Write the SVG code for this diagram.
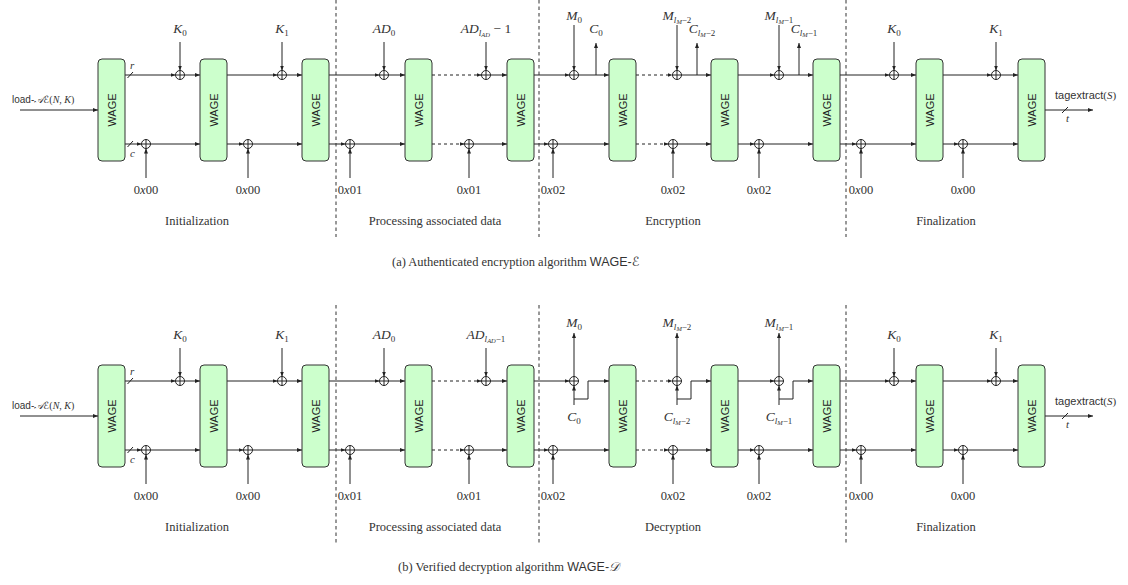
<svg xmlns="http://www.w3.org/2000/svg" xmlns:xlink="http://www.w3.org/1999/xlink" width="1128" height="585" viewBox="0 0 1128 585">
<style>
.ln{stroke:#222;stroke-width:1;fill:none}
.ar{marker-end:url(#ah)}
.ds{stroke-dasharray:3 3}
.dv{stroke:#333;stroke-width:1;stroke-dasharray:3.5 3;fill:none}
.box{fill:#ccffcc;stroke:#333;stroke-width:1}
.t{font-family:"Liberation Serif","DejaVu Serif",serif;font-size:12.5px;fill:#333}
.m{font-size:13.5px}
.mid{text-anchor:middle}
.i{font-style:italic}
.sb{font-size:9px}
.ssb{font-size:6.5px}
.sf{font-family:"Liberation Sans","DejaVu Sans",sans-serif}
.sc{font-family:"DejaVu Serif","DejaVu Sans","Noto Sans",serif;font-style:italic}
.w{font-family:"Liberation Sans","DejaVu Sans",sans-serif;font-size:11px;fill:#222;text-anchor:middle}
</style>
<defs>
<marker id="ah" markerWidth="6" markerHeight="4" refX="5" refY="2" orient="auto" markerUnits="userSpaceOnUse"><path d="M0,0 L5,2 L0,4 z" fill="#222"/></marker>
<g id="xor"><circle r="4.5" fill="#fff" stroke="#222" stroke-width="1"/><path d="M-4.5,0H4.5M0,-4.5V4.5" stroke="#222" stroke-width="1"/></g>
<g id="wbox"><rect class="box" x="0" y="0" width="27" height="102" rx="4"/><text class="w" transform="translate(13.5,51) rotate(-90)" y="4">WAGE</text></g>
</defs>
<rect width="1128" height="585" fill="#fff"/>

<!-- ================= (a) ================= -->
<g id="diagram-a">
 <g id="a-connectors" class="ln">
  <path class="ar" d="M20,110H98"/>
  <path class="ar" d="M1045,110H1093"/>
  <path d="M1062,113L1068,107"/>
  <path d="M127.5,78L133,72"/>
  <path d="M127.5,147L133,141"/>
  <path class="ar" d="M125,75H175.5"/><path class="ar" d="M184.5,75H200"/>
  <path class="ar" d="M227,75H277.5"/><path class="ar" d="M286.5,75H302"/>
  <path class="ar" d="M329,75H379.5"/><path class="ar" d="M388.5,75H405"/>
  <path class="ar ds" d="M432,75H481.5"/><path class="ar" d="M490.5,75H507"/>
  <path class="ar" d="M534,75H569.5"/><path class="ar" d="M578.5,75H609"/><path class="ar" d="M596,75V43"/>
  <path class="ar ds" d="M636,75H672.5"/><path class="ar" d="M681.5,75H711"/><path class="ar" d="M697,75V43"/>
  <path class="ar" d="M738,75H774.5"/><path class="ar" d="M783.5,75H813"/><path class="ar" d="M799,75V43"/>
  <path class="ar" d="M840,75H889.5"/><path class="ar" d="M898.5,75H916"/>
  <path class="ar" d="M943,75H991.5"/><path class="ar" d="M1000.5,75H1018"/>
  <path class="ar" d="M180,42V70.5"/><path class="ar" d="M282,42V70.5"/>
  <path class="ar" d="M384,42V70.5"/><path class="ar" d="M486,42V70.5"/>
  <path class="ar" d="M574,25V70.5"/><path class="ar" d="M677,25V70.5"/><path class="ar" d="M779,25V70.5"/>
  <path class="ar" d="M894,42V70.5"/><path class="ar" d="M996,42V70.5"/>
  <path class="ar" d="M125,144H141.5"/><path class="ar" d="M150.5,144H200"/>
  <path class="ar" d="M227,144H243.5"/><path class="ar" d="M252.5,144H302"/>
  <path class="ar" d="M329,144H345.5"/><path class="ar" d="M354.5,144H405"/>
  <path class="ar ds" d="M432,144H464.5"/><path class="ar" d="M473.5,144H507"/>
  <path class="ar" d="M534,144H548.5"/><path class="ar" d="M557.5,144H609"/>
  <path class="ar ds" d="M636,144H668.5"/><path class="ar" d="M677.5,144H711"/>
  <path class="ar" d="M738,144H754.5"/><path class="ar" d="M763.5,144H813"/>
  <path class="ar" d="M840,144H856.5"/><path class="ar" d="M865.5,144H916"/>
  <path class="ar" d="M943,144H958.5"/><path class="ar" d="M967.5,144H1018"/>
  <path class="ar" d="M146,178V148.5"/><path class="ar" d="M248,178V148.5"/>
  <path class="ar" d="M350,178V148.5"/><path class="ar" d="M469,178V148.5"/>
  <path class="ar" d="M553,178V148.5"/><path class="ar" d="M673,178V148.5"/><path class="ar" d="M759,178V148.5"/>
  <path class="ar" d="M861,178V148.5"/><path class="ar" d="M963,178V148.5"/>
 </g>
 <g id="a-dividers">
  <path class="dv" d="M336,0V237M539,0V237M846,0V237"/>
 </g>
 <g id="a-wage1"><use href="#wbox" x="98" y="59"/></g>
 <g id="a-wage2"><use href="#wbox" x="200" y="59"/></g>
 <g id="a-wage3"><use href="#wbox" x="302" y="59"/></g>
 <g id="a-wage4"><use href="#wbox" x="405" y="59"/></g>
 <g id="a-wage5"><use href="#wbox" x="507" y="59"/></g>
 <g id="a-wage6"><use href="#wbox" x="609" y="59"/></g>
 <g id="a-wage7"><use href="#wbox" x="711" y="59"/></g>
 <g id="a-wage8"><use href="#wbox" x="813" y="59"/></g>
 <g id="a-wage9"><use href="#wbox" x="916" y="59"/></g>
 <g id="a-wage10"><use href="#wbox" x="1018" y="59"/></g>
 <g id="a-xors">
  <use id="a-xr1" href="#xor" x="180" y="75"/><use id="a-xr2" href="#xor" x="282" y="75"/>
  <use id="a-xr3" href="#xor" x="384" y="75"/><use id="a-xr4" href="#xor" x="486" y="75"/>
  <use id="a-xr5" href="#xor" x="574" y="75"/><use id="a-xr6" href="#xor" x="677" y="75"/>
  <use id="a-xr7" href="#xor" x="779" y="75"/><use id="a-xr8" href="#xor" x="894" y="75"/>
  <use id="a-xr9" href="#xor" x="996" y="75"/>
  <use id="a-xc1" href="#xor" x="146" y="144"/><use id="a-xc2" href="#xor" x="248" y="144"/>
  <use id="a-xc3" href="#xor" x="350" y="144"/><use id="a-xc4" href="#xor" x="469" y="144"/>
  <use id="a-xc5" href="#xor" x="553" y="144"/><use id="a-xc6" href="#xor" x="673" y="144"/>
  <use id="a-xc7" href="#xor" x="759" y="144"/><use id="a-xc8" href="#xor" x="861" y="144"/>
  <use id="a-xc9" href="#xor" x="963" y="144"/>
 </g>
 <g id="a-labels" class="t">
  <text x="12" y="103" font-size="10"><tspan class="sf">load-</tspan><tspan class="sc">𝒜ℰ</tspan>(<tspan class="i">N</tspan>, <tspan class="i">K</tspan>)</text>
  <text x="1055" y="99" font-size="11"><tspan class="sf">tagextract</tspan>(<tspan class="i">S</tspan>)</text>
  <text x="1066" y="122" class="i" font-size="11">t</text>
  <text x="130" y="69" class="i" font-size="11">r</text>
  <text x="130" y="157" class="i" font-size="11">c</text>
  <text x="180" y="33" class="mid m"><tspan class="i">K</tspan><tspan class="sb" dy="2.5">0</tspan></text>
  <text x="282" y="33" class="mid m"><tspan class="i">K</tspan><tspan class="sb" dy="2.5">1</tspan></text>
  <text x="384" y="33" class="mid m"><tspan class="i">AD</tspan><tspan class="sb" dy="2.5">0</tspan></text>
  <text x="486" y="33" class="mid m"><tspan class="i">AD</tspan><tspan class="sb i" dy="2.5">l</tspan><tspan class="ssb i" dy="1.5">AD</tspan><tspan dy="-4"> − 1</tspan></text>
  <text x="574" y="20" class="mid m"><tspan class="i">M</tspan><tspan class="sb" dy="2.5">0</tspan></text>
  <text x="596" y="33" class="mid m"><tspan class="i">C</tspan><tspan class="sb" dy="2.5">0</tspan></text>
  <text x="677" y="20" class="mid m"><tspan class="i">M</tspan><tspan class="sb i" dy="2.5">l</tspan><tspan class="ssb i" dy="1.5">M</tspan><tspan class="sb" dy="-1.5">−2</tspan></text>
  <text x="702" y="33" class="mid m"><tspan class="i">C</tspan><tspan class="sb i" dy="2.5">l</tspan><tspan class="ssb i" dy="1.5">M</tspan><tspan class="sb" dy="-1.5">−2</tspan></text>
  <text x="779" y="20" class="mid m"><tspan class="i">M</tspan><tspan class="sb i" dy="2.5">l</tspan><tspan class="ssb i" dy="1.5">M</tspan><tspan class="sb" dy="-1.5">−1</tspan></text>
  <text x="804" y="33" class="mid m"><tspan class="i">C</tspan><tspan class="sb i" dy="2.5">l</tspan><tspan class="ssb i" dy="1.5">M</tspan><tspan class="sb" dy="-1.5">−1</tspan></text>
  <text x="894" y="33" class="mid m"><tspan class="i">K</tspan><tspan class="sb" dy="2.5">0</tspan></text>
  <text x="996" y="33" class="mid m"><tspan class="i">K</tspan><tspan class="sb" dy="2.5">1</tspan></text>
  <text x="146" y="194" class="mid">0<tspan class="i">x</tspan>00</text>
  <text x="248" y="194" class="mid">0<tspan class="i">x</tspan>00</text>
  <text x="350" y="194" class="mid">0<tspan class="i">x</tspan>01</text>
  <text x="469" y="194" class="mid">0<tspan class="i">x</tspan>01</text>
  <text x="553" y="194" class="mid">0<tspan class="i">x</tspan>02</text>
  <text x="673" y="194" class="mid">0<tspan class="i">x</tspan>02</text>
  <text x="759" y="194" class="mid">0<tspan class="i">x</tspan>02</text>
  <text x="861" y="194" class="mid">0<tspan class="i">x</tspan>00</text>
  <text x="963" y="194" class="mid">0<tspan class="i">x</tspan>00</text>
  <text x="197" y="225" class="mid">Initialization</text>
  <text x="435" y="225" class="mid">Processing associated data</text>
  <text x="673" y="225" class="mid">Encryption</text>
  <text x="946" y="225" class="mid">Finalization</text>
  <text x="392" y="266">(a) Authenticated encryption algorithm <tspan class="sf">WAGE-</tspan><tspan class="sc">ℰ</tspan></text>
 </g>
</g>

<!-- ================= (b) ================= -->
<g id="diagram-b" transform="translate(0,306)">
 <g id="b-connectors" class="ln">
  <path class="ar" d="M20,110H98"/>
  <path class="ar" d="M1045,110H1093"/>
  <path d="M1062,113L1068,107"/>
  <path d="M127.5,78L133,72"/>
  <path d="M127.5,147L133,141"/>
  <path class="ar" d="M125,75H175.5"/><path class="ar" d="M184.5,75H200"/>
  <path class="ar" d="M227,75H277.5"/><path class="ar" d="M286.5,75H302"/>
  <path class="ar" d="M329,75H379.5"/><path class="ar" d="M388.5,75H405"/>
  <path class="ar ds" d="M432,75H481.5"/><path class="ar" d="M490.5,75H507"/>
  <path class="ar" d="M534,75H569.5"/>
  <path class="ar" d="M574,70.5V27"/><path class="ar" d="M574,99V79.5"/><path class="ar" d="M574,93H588V75H609"/>
  <path class="ar ds" d="M636,75H672.5"/>
  <path class="ar" d="M677,70.5V27"/><path class="ar" d="M677,99V79.5"/><path class="ar" d="M677,93H691V75H711"/>
  <path class="ar" d="M738,75H774.5"/>
  <path class="ar" d="M779,70.5V27"/><path class="ar" d="M779,99V79.5"/><path class="ar" d="M779,93H793V75H813"/>
  <path class="ar" d="M840,75H889.5"/><path class="ar" d="M898.5,75H916"/>
  <path class="ar" d="M943,75H991.5"/><path class="ar" d="M1000.5,75H1018"/>
  <path class="ar" d="M180,42V70.5"/><path class="ar" d="M282,42V70.5"/>
  <path class="ar" d="M384,42V70.5"/><path class="ar" d="M486,42V70.5"/>
  <path class="ar" d="M894,42V70.5"/><path class="ar" d="M996,42V70.5"/>
  <path class="ar" d="M125,144H141.5"/><path class="ar" d="M150.5,144H200"/>
  <path class="ar" d="M227,144H243.5"/><path class="ar" d="M252.5,144H302"/>
  <path class="ar" d="M329,144H345.5"/><path class="ar" d="M354.5,144H405"/>
  <path class="ar ds" d="M432,144H464.5"/><path class="ar" d="M473.5,144H507"/>
  <path class="ar" d="M534,144H548.5"/><path class="ar" d="M557.5,144H609"/>
  <path class="ar ds" d="M636,144H668.5"/><path class="ar" d="M677.5,144H711"/>
  <path class="ar" d="M738,144H754.5"/><path class="ar" d="M763.5,144H813"/>
  <path class="ar" d="M840,144H856.5"/><path class="ar" d="M865.5,144H916"/>
  <path class="ar" d="M943,144H958.5"/><path class="ar" d="M967.5,144H1018"/>
  <path class="ar" d="M146,178V148.5"/><path class="ar" d="M248,178V148.5"/>
  <path class="ar" d="M350,178V148.5"/><path class="ar" d="M469,178V148.5"/>
  <path class="ar" d="M553,178V148.5"/><path class="ar" d="M673,178V148.5"/><path class="ar" d="M759,178V148.5"/>
  <path class="ar" d="M861,178V148.5"/><path class="ar" d="M963,178V148.5"/>
 </g>
 <g id="b-dividers">
  <path class="dv" d="M336,-1V237M539,-1V237M846,-1V237"/>
 </g>
 <g id="b-wage1"><use href="#wbox" x="98" y="59"/></g>
 <g id="b-wage2"><use href="#wbox" x="200" y="59"/></g>
 <g id="b-wage3"><use href="#wbox" x="302" y="59"/></g>
 <g id="b-wage4"><use href="#wbox" x="405" y="59"/></g>
 <g id="b-wage5"><use href="#wbox" x="507" y="59"/></g>
 <g id="b-wage6"><use href="#wbox" x="609" y="59"/></g>
 <g id="b-wage7"><use href="#wbox" x="711" y="59"/></g>
 <g id="b-wage8"><use href="#wbox" x="813" y="59"/></g>
 <g id="b-wage9"><use href="#wbox" x="916" y="59"/></g>
 <g id="b-wage10"><use href="#wbox" x="1018" y="59"/></g>
 <g id="b-xors">
  <use id="b-xr1" href="#xor" x="180" y="75"/><use id="b-xr2" href="#xor" x="282" y="75"/>
  <use id="b-xr3" href="#xor" x="384" y="75"/><use id="b-xr4" href="#xor" x="486" y="75"/>
  <use id="b-xr5" href="#xor" x="574" y="75"/><use id="b-xr6" href="#xor" x="677" y="75"/>
  <use id="b-xr7" href="#xor" x="779" y="75"/><use id="b-xr8" href="#xor" x="894" y="75"/>
  <use id="b-xr9" href="#xor" x="996" y="75"/>
  <use id="b-xc1" href="#xor" x="146" y="144"/><use id="b-xc2" href="#xor" x="248" y="144"/>
  <use id="b-xc3" href="#xor" x="350" y="144"/><use id="b-xc4" href="#xor" x="469" y="144"/>
  <use id="b-xc5" href="#xor" x="553" y="144"/><use id="b-xc6" href="#xor" x="673" y="144"/>
  <use id="b-xc7" href="#xor" x="759" y="144"/><use id="b-xc8" href="#xor" x="861" y="144"/>
  <use id="b-xc9" href="#xor" x="963" y="144"/>
 </g>
 <g id="b-labels" class="t">
  <text x="12" y="103" font-size="10"><tspan class="sf">load-</tspan><tspan class="sc">𝒜ℰ</tspan>(<tspan class="i">N</tspan>, <tspan class="i">K</tspan>)</text>
  <text x="1055" y="99" font-size="11"><tspan class="sf">tagextract</tspan>(<tspan class="i">S</tspan>)</text>
  <text x="1066" y="122" class="i" font-size="11">t</text>
  <text x="130" y="69" class="i" font-size="11">r</text>
  <text x="130" y="157" class="i" font-size="11">c</text>
  <text x="180" y="33" class="mid m"><tspan class="i">K</tspan><tspan class="sb" dy="2.5">0</tspan></text>
  <text x="282" y="33" class="mid m"><tspan class="i">K</tspan><tspan class="sb" dy="2.5">1</tspan></text>
  <text x="384" y="33" class="mid m"><tspan class="i">AD</tspan><tspan class="sb" dy="2.5">0</tspan></text>
  <text x="486" y="33" class="mid m"><tspan class="i">AD</tspan><tspan class="sb i" dy="2.5">l</tspan><tspan class="ssb i" dy="1.5">AD</tspan><tspan class="sb" dy="-1.5">−1</tspan></text>
  <text x="574" y="21" class="mid m"><tspan class="i">M</tspan><tspan class="sb" dy="2.5">0</tspan></text>
  <text x="574" y="115" class="mid m"><tspan class="i">C</tspan><tspan class="sb" dy="2.5">0</tspan></text>
  <text x="677" y="21" class="mid m"><tspan class="i">M</tspan><tspan class="sb i" dy="2.5">l</tspan><tspan class="ssb i" dy="1.5">M</tspan><tspan class="sb" dy="-1.5">−2</tspan></text>
  <text x="677" y="115" class="mid m"><tspan class="i">C</tspan><tspan class="sb i" dy="2.5">l</tspan><tspan class="ssb i" dy="1.5">M</tspan><tspan class="sb" dy="-1.5">−2</tspan></text>
  <text x="779" y="21" class="mid m"><tspan class="i">M</tspan><tspan class="sb i" dy="2.5">l</tspan><tspan class="ssb i" dy="1.5">M</tspan><tspan class="sb" dy="-1.5">−1</tspan></text>
  <text x="779" y="115" class="mid m"><tspan class="i">C</tspan><tspan class="sb i" dy="2.5">l</tspan><tspan class="ssb i" dy="1.5">M</tspan><tspan class="sb" dy="-1.5">−1</tspan></text>
  <text x="894" y="33" class="mid m"><tspan class="i">K</tspan><tspan class="sb" dy="2.5">0</tspan></text>
  <text x="996" y="33" class="mid m"><tspan class="i">K</tspan><tspan class="sb" dy="2.5">1</tspan></text>
  <text x="146" y="194" class="mid">0<tspan class="i">x</tspan>00</text>
  <text x="248" y="194" class="mid">0<tspan class="i">x</tspan>00</text>
  <text x="350" y="194" class="mid">0<tspan class="i">x</tspan>01</text>
  <text x="469" y="194" class="mid">0<tspan class="i">x</tspan>01</text>
  <text x="553" y="194" class="mid">0<tspan class="i">x</tspan>02</text>
  <text x="673" y="194" class="mid">0<tspan class="i">x</tspan>02</text>
  <text x="759" y="194" class="mid">0<tspan class="i">x</tspan>02</text>
  <text x="861" y="194" class="mid">0<tspan class="i">x</tspan>00</text>
  <text x="963" y="194" class="mid">0<tspan class="i">x</tspan>00</text>
  <text x="197" y="225" class="mid">Initialization</text>
  <text x="435" y="225" class="mid">Processing associated data</text>
  <text x="673" y="225" class="mid">Decryption</text>
  <text x="946" y="225" class="mid">Finalization</text>
  <text x="398" y="265">(b) Verified decryption algorithm <tspan class="sf">WAGE-</tspan><tspan class="sc">𝒟</tspan></text>
 </g>
</g>
</svg>
